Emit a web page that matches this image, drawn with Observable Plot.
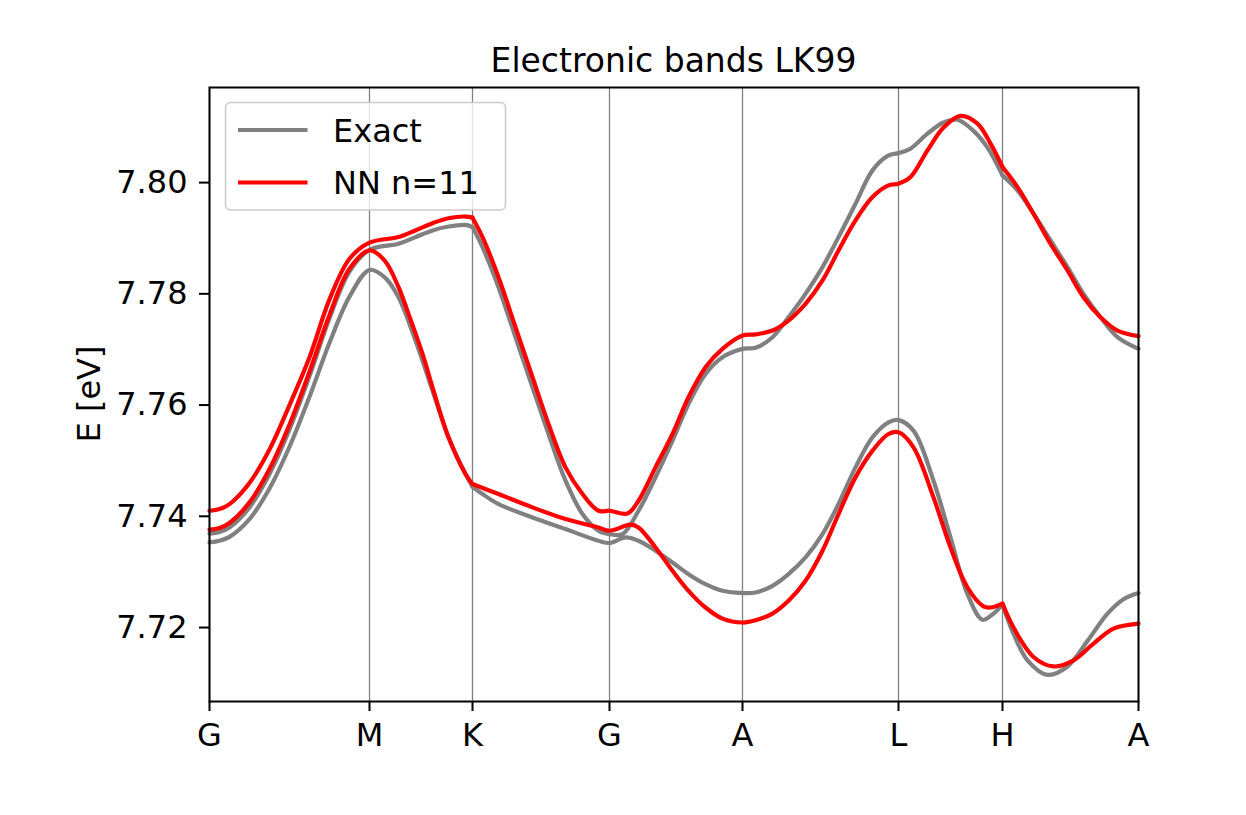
<!DOCTYPE html>
<html>
<head>
<meta charset="utf-8">
<script src="https://cdn.jsdelivr.net/npm/d3@7"></script>
<script src="https://cdn.jsdelivr.net/npm/@observablehq/plot@0.6"></script>
<style>
  body { margin: 0; background: #fff; }
  #chart { position: relative; width: 1246px; height: 815px; }
</style>
</head>
<body>
<div id="chart"></div>
<script>
// High-symmetry points along the k-path (path distance) and their labels
const tickK = [0, 160, 263, 400, 533, 689, 793, 929];
const tickLabels = ["G", "M", "K", "G", "A", "L", "H", "A"];
const yTicks = [7.72, 7.74, 7.76, 7.78, 7.80];
// points where the bands have a kink (curves are split there)
const kinkK = [263, 793];

// Exact, lower band
const exactLowK = [0,10,20,40,60,80,100,120,140,160, 175,189,206,223,239,256,263, 273,289,323,356,389,400,
  416,429,446,463,479,496,513,533, 546,563,579,596,613,629,646,663,679,689,
  704,724,741,758,773,784,793, 804,818,838,858,878,898,914,929];
const exactLowE = [7.7353,7.7356,7.7363,7.7395,7.7450,7.7525,7.7615,7.7712,7.7795,7.7843,
  7.7830,7.7794,7.7716,7.7626,7.7542,7.7476,7.7453,
  7.7440,7.7422,7.7398,7.7377,7.7356,7.7352,
  7.7362,7.7356,7.7338,7.7317,7.7296,7.7278,7.7266,7.7262,
  7.7263,7.7275,7.7296,7.7326,7.7368,7.7422,7.7488,7.7542,7.7569,7.7573,
  7.7554,7.7464,7.7362,7.7260,7.7214,7.7225,7.7241,
  7.7189,7.7141,7.7115,7.7130,7.7176,7.7225,7.7251,7.7262];

// Exact, upper band
const exactUpK = [0,10,20,40,60,80,100,120,140,160, 189,206,223,239,256,263,
  273,289,306,323,339,356,373,389,400, 413,429,446,463,479,496,513,533,
  546,563,579,596,613,629,646,663,679,689, 701,718,734,748,764,778,793,
  808,824,841,858,874,891,908,929];
const exactUpE = [7.7369,7.7372,7.7380,7.7416,7.7476,7.7556,7.7652,7.7756,7.7840,7.7879,
  7.7890,7.7902,7.7914,7.7921,7.7924,7.7920,
  7.7884,7.7812,7.7722,7.7632,7.7548,7.7464,7.7404,7.7374,7.7368,
  7.7368,7.7410,7.7470,7.7536,7.7602,7.7656,7.7686,7.7701,
  7.7703,7.7722,7.7758,7.7800,7.7848,7.7902,7.7962,7.8022,7.8049,7.8053,
  7.8061,7.8088,7.8108,7.8113,7.8093,7.8063,7.8013,
  7.7986,7.7944,7.7896,7.7848,7.7800,7.7758,7.7722,7.7701];

// NN n=11, lower band
const nnLowK = [0,10,20,40,60,80,100,120,140,160, 175,189,199,213,223,239,256,263,
  289,323,356,389,400, 421,429,446,463,479,496,513,533,
  546,563,579,596,613,629,646,663,679,689, 704,724,741,758,774,781,793,
  804,824,844,864,884,904,929];
const nnLowE = [7.7376,7.7379,7.7388,7.7425,7.7485,7.7565,7.7660,7.7762,7.7845,7.7878,
  7.7860,7.7812,7.7764,7.7692,7.7632,7.7542,7.7476,7.7458,
  7.7440,7.7416,7.7395,7.7380,7.7374,
  7.7385,7.7380,7.7344,7.7302,7.7266,7.7236,7.7216,7.7209,
  7.7213,7.7225,7.7248,7.7284,7.7338,7.7404,7.7470,7.7518,7.7548,7.7551,
  7.7524,7.7434,7.7344,7.7272,7.7238,7.7236,7.7243,
  7.7200,7.7147,7.7130,7.7141,7.7171,7.7198,7.7207];

// NN n=11, upper band
const nnUpK = [0,10,20,40,60,80,100,120,140,160, 189,206,223,239,256,263,
  273,289,306,323,339,356,373,389,400, 418,429,446,463,479,496,513,533,
  546,563,579,596,613,629,646,663,679,689, 701,718,734,751,768,781,793,
  808,824,841,858,874,891,908,929];
const nnUpE = [7.7410,7.7413,7.7422,7.7460,7.7520,7.7600,7.7686,7.7790,7.7863,7.7892,
  7.7902,7.7914,7.7927,7.7936,7.7939,7.7937,
  7.7902,7.7830,7.7740,7.7650,7.7566,7.7488,7.7440,7.7410,7.7410,
  7.7405,7.7428,7.7488,7.7548,7.7614,7.7668,7.7701,7.7725,
  7.7727,7.7734,7.7752,7.7782,7.7824,7.7878,7.7932,7.7974,7.7995,7.7998,
  7.8010,7.8058,7.8099,7.8120,7.8106,7.8070,7.8028,
  7.7992,7.7944,7.7890,7.7842,7.7794,7.7758,7.7734,7.7724];

const seriesNames = ["Exact", "NN n=11"];
const seriesColors = ["gray", "red"];

// Split each band into pieces at the kinks
function pieceRows(name, band, ks, es) {
  const edges = [0, ...kinkK, 929];
  const out = [];
  for (let p = 0; p < edges.length - 1; p++) {
    const a = edges[p], b = edges[p + 1];
    ks.forEach((k, i) => {
      if (k >= a && k <= b) out.push({k, E: es[i], series: name, z: `${name}-${band}-${p}`});
    });
  }
  return out;
}
const exactRows = [...pieceRows("Exact", 1, exactLowK, exactLowE), ...pieceRows("Exact", 2, exactUpK, exactUpE)];
const nnRows = [...pieceRows("NN n=11", 1, nnLowK, nnLowE), ...pieceRows("NN n=11", 2, nnUpK, nnUpE)];

const labelOf = new Map(tickK.map((k, i) => [k, tickLabels[i]]));

const plot = Plot.plot({
  width: 1246,
  height: 815,
  marginLeft: 209,
  marginRight: 108,
  marginTop: 87,
  marginBottom: 114,
  style: {fontFamily: "DejaVu Sans", fontSize: "32px", color: "black", background: "white"},
  x: {domain: [0, 929]},
  y: {domain: [7.7067, 7.8171]},
  marks: [
    Plot.ruleX(tickK, {stroke: "#808080", strokeWidth: 1.3}),
    Plot.line(exactRows, {x: "k", y: "E", z: "z", stroke: seriesColors[0], strokeWidth: 4.2, curve: "catmull-rom"}),
    Plot.line(nnRows, {x: "k", y: "E", z: "z", stroke: seriesColors[1], strokeWidth: 4.2, curve: "catmull-rom"}),
    Plot.frame({stroke: "black", strokeWidth: 2}),
    Plot.axisX({ticks: tickK, tickFormat: d => labelOf.get(d), tickSize: 10, tickPadding: 12, label: null, strokeWidth: 2}),
    Plot.axisY({ticks: yTicks, tickFormat: d3.format(".2f"), tickSize: 10, tickPadding: 12, label: null, strokeWidth: 2})
  ]
});
document.getElementById("chart").appendChild(plot);

// Decorations: title, y label, legend
const svg = d3.select(plot);
svg.append("text")
  .attr("x", 673.5).attr("y", 71.5)
  .attr("text-anchor", "middle")
  .style("font-size", "33px").style("font-family", "DejaVu Sans")
  .attr("fill", "black")
  .text("Electronic bands LK99");

svg.append("text")
  .attr("transform", "translate(100,394) rotate(-90)")
  .attr("text-anchor", "middle")
  .style("font-size", "32px").style("font-family", "DejaVu Sans")
  .attr("fill", "black")
  .text("E [eV]");

const lg = svg.append("g");
lg.append("rect")
  .attr("x", 225.5).attr("y", 102.5).attr("width", 280).attr("height", 107.5)
  .attr("rx", 5).attr("fill", "white").attr("fill-opacity", 0.8)
  .attr("stroke", "#cccccc").attr("stroke-width", 1.5);
seriesNames.forEach((name, i) => {
  const cy = 130 + i * 52.5;
  lg.append("line")
    .attr("x1", 238).attr("x2", 307.5).attr("y1", cy).attr("y2", cy)
    .attr("stroke", seriesColors[i]).attr("stroke-width", 4.2);
  lg.append("text")
    .attr("x", 333).attr("y", cy + 11.7)
    .attr("text-anchor", "start")
    .style("font-size", "32px").style("font-family", "DejaVu Sans")
    .attr("fill", "black")
    .text(name);
});
</script>
</body>
</html>
